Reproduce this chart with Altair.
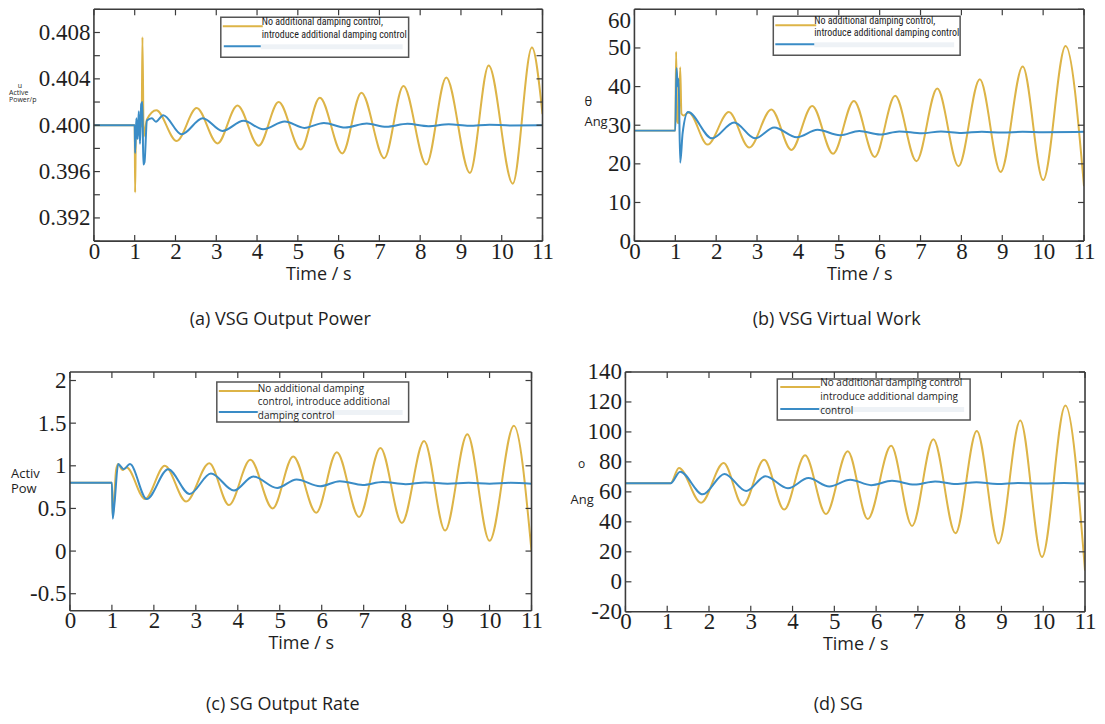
import altair as alt
import pandas as pd

YELLOW = "#DDB447"
BLUE = "#3A8CC6"
FRAME = "#3c3c3c"
TXT = "#1e1e1e"
SERIF = "Liberation Serif"
SANS = "Open Sans"
NARROW = "Liberation Sans Narrow, Roboto Condensed, Roboto"

X_TICKS = [0, 1, 2, 3, 4, 5, 6, 7, 8, 9, 10, 11]
X_DOMAIN = [0, 11]

# ---------------- (a) VSG output power ----------------
a_no_t = [0.0, 1.0, 1.01, 1.03, 1.17, 1.19, 1.22, 1.30, 1.53, 2.03, 2.52, 3.03, 3.52, 4.04, 4.53,
          5.07, 5.54, 6.09, 6.56, 7.12, 7.59, 8.15, 8.64, 9.22, 9.68, 10.27, 10.74, 11.0]
a_no_v = [0.4000, 0.4000, 0.3942, 0.3995, 0.4000, 0.4076, 0.3990, 0.4005, 0.4013, 0.39864, 0.40148,
          0.39843, 0.40171, 0.39823, 0.40200, 0.39791, 0.40238, 0.39757, 0.40281, 0.39716, 0.40339,
          0.39661, 0.40412, 0.39588, 0.40516, 0.39496, 0.40670, 0.40096]
a_da_t = [0.0, 1.0, 1.01, 1.04, 1.07, 1.10, 1.13, 1.16, 1.19, 1.21, 1.24, 1.30, 1.42, 1.52, 1.70,
          2.15, 2.67, 3.15, 3.67, 4.15, 4.68, 5.16, 5.64, 6.16, 6.69, 7.17, 7.69, 8.2, 8.7, 9.2,
          9.7, 10.2, 11.0]
a_da_v = [0.4000, 0.4000, 0.3976, 0.4006, 0.3988, 0.4012, 0.3984, 0.4018, 0.4020, 0.3966, 0.3968,
          0.4004, 0.4006, 0.4003, 0.40087, 0.39922, 0.40060, 0.39951, 0.40038, 0.39965, 0.40032,
          0.39977, 0.40020, 0.39980, 0.40015, 0.39986, 0.40012, 0.39992, 0.40008, 0.39995,
          0.40005, 0.39998, 0.40000]
a_ydomain = [0.390, 0.410]
a_ylabels = [0.392, 0.396, 0.400, 0.404, 0.408]
a_yticks = [0.390, 0.392, 0.394, 0.396, 0.398, 0.400, 0.402, 0.404, 0.406, 0.408, 0.410]

# ---------------- (b) VSG virtual work angle ----------------
b_no_t = [0.0, 1.0, 1.02, 1.05, 1.08, 1.12, 1.15, 1.20, 1.33, 1.79, 2.31, 2.81, 3.35, 3.84, 4.35,
          4.86, 5.37, 5.88, 6.38, 6.90, 7.41, 7.93, 8.45, 8.96, 9.50, 10.0, 10.55, 11.0]
b_no_v = [28.6, 28.6, 49.0, 31.0, 30.5, 45.0, 33.0, 32.5, 33.3, 25.0, 33.4, 24.2, 34.1, 23.6, 35.0,
          22.6, 36.3, 21.8, 37.6, 20.7, 39.5, 19.4, 41.9, 17.9, 45.2, 15.8, 50.5, 14.2]
b_da_t = [0.0, 1.0, 1.03, 1.06, 1.08, 1.12, 1.18, 1.31, 1.90, 2.44, 2.95, 3.42, 3.97, 4.48, 5.03,
          5.50, 6.01, 6.48, 7.03, 7.50, 8.0, 8.5, 9.0, 9.5, 10.0, 11.0]
b_da_v = [28.6, 28.6, 44.8, 40.0, 42.0, 20.3, 28.0, 33.4, 26.6, 30.7, 26.6, 29.4, 26.9, 28.8, 27.4,
          28.5, 27.6, 28.4, 27.9, 28.4, 28.0, 28.3, 28.1, 28.3, 28.2, 28.3]
b_ydomain = [0, 60]
b_ylabels = [0, 10, 20, 30, 40, 50, 60]
b_yticks = [0, 10, 20, 30, 40, 50, 60]

# ---------------- (c) SG output ----------------
c_no_t = [0.0, 1.0, 1.02, 1.10, 1.15, 1.25, 1.35, 1.79, 2.26, 2.77, 3.32, 3.79, 4.30, 4.83, 5.32,
          5.87, 6.36, 6.89, 7.40, 7.91, 8.44, 8.94, 9.47, 10.0, 10.58, 11.0]
c_no_v = [0.80, 0.80, 0.40, 0.95, 1.02, 0.95, 0.98, 0.61, 1.00, 0.58, 1.03, 0.54, 1.07, 0.50, 1.11,
          0.45, 1.16, 0.40, 1.21, 0.33, 1.29, 0.24, 1.37, 0.12, 1.47, 0.00]
c_da_t = [0.0, 1.0, 1.02, 1.06, 1.15, 1.28, 1.43, 1.83, 2.34, 2.85, 3.36, 3.91, 4.37, 4.94, 5.40,
          5.96, 6.43, 6.98, 7.45, 8.0, 8.47, 9.0, 9.5, 10.0, 10.5, 11.0]
c_da_v = [0.80, 0.80, 0.38, 0.55, 1.02, 0.96, 1.02, 0.61, 0.96, 0.67, 0.91, 0.71, 0.875, 0.74, 0.84,
          0.76, 0.82, 0.775, 0.81, 0.785, 0.805, 0.79, 0.80, 0.79, 0.80, 0.79]
c_ydomain = [-0.7, 2.1]
c_ylabels = [-0.5, 0, 0.5, 1, 1.5, 2]
c_yticks = [-0.5, 0, 0.5, 1, 1.5, 2]

# ---------------- (d) SG angle ----------------
d_no_t = [0.0, 1.08, 1.28, 1.81, 2.35, 2.81, 3.32, 3.80, 4.30, 4.80, 5.32, 5.80, 6.36, 6.86, 7.37,
          7.90, 8.41, 8.93, 9.45, 9.97, 10.53, 11.0]
d_no_v = [65.8, 65.8, 76.0, 52.7, 79.2, 50.9, 81.4, 48.2, 84.4, 45.2, 87.1, 41.9, 90.7, 37.3, 95.2,
          32.4, 100.7, 25.6, 107.7, 16.5, 117.6, 7.5]
d_da_t = [0.0, 1.08, 1.31, 1.85, 2.37, 2.89, 3.35, 3.89, 4.38, 4.88, 5.38, 5.88, 6.38, 6.92, 7.41,
          7.91, 8.4, 8.9, 9.4, 10.0, 10.5, 11.0]
d_da_v = [65.8, 65.8, 73.5, 58.4, 72.0, 60.6, 70.4, 62.4, 69.2, 63.6, 68.1, 64.5, 67.4, 64.9, 67.0,
          65.2, 66.5, 65.3, 66.0, 65.6, 66.0, 65.6]
d_ydomain = [-20, 140]
d_ylabels = [-20, 0, 20, 40, 60, 80, 100, 120, 140]
d_yticks = [-20, 0, 20, 40, 60, 80, 100, 120, 140]

# ---------------- texts ----------------
LEG_AB = ["No additional damping control,", "introduce additional damping control"]
LEG_C = ["No additional damping", "control, introduce additional", "damping control"]
LEG_D = ["No additional damping control", " introduce additional damping", "control"]
YT_A = ["u", "Active", "Power/p"]
YT_B = ["\u03b8", "Ang"]
YT_C = ["Activ", "Pow"]
YT_D = ["o", "Ang"]
CAPTIONS = ["(a) VSG Output Power", "(b) VSG Virtual Work", "(c) SG Output Rate", "(d) SG"]
X_TITLE = "Time / s"


def text_layer(lines, x, y, size, font=SANS, align="left", line_height=None, color=TXT):
    df = pd.DataFrame({"s": ["\n".join(lines)]})
    kw = dict(align=align, baseline="middle", font=font, fontSize=size, color=color, lineBreak="\n")
    if line_height is not None:
        kw["lineHeight"] = line_height
    return alt.Chart(df).mark_text(**kw).encode(x=alt.value(x), y=alt.value(y), text="s:N")


def panel(t_no, v_no, t_da, v_da, ydom, ylabels, yticks, w, h, leg, ytexts, caption,
          cap_dx, cap_offset, xoff=0, yfmt=None, top_flush=False):
    xs = alt.X("t:Q", scale=alt.Scale(domain=X_DOMAIN, range=[xoff, xoff + w], nice=False, zero=False),
               axis=alt.Axis(values=X_TICKS, title=X_TITLE, ticks=False, tickSize=0, domain=False,
                             grid=False, labelFont=SERIF, labelFontSize=23, labelColor=TXT,
                             labelPadding=-1, labelOverlap=False, labelFlush=False,
                             titleFont=SANS, titleFontSize=18, titleFontWeight="normal",
                             titleColor=TXT, titlePadding=2))
    yk = dict(values=ylabels, title=None, ticks=False, tickSize=0, domain=False, grid=False,
              labelFont=SERIF, labelFontSize=23, labelColor=TXT, labelPadding=4,
              labelOverlap=False, labelFlush=False)
    if xoff:
        yk["offset"] = -xoff
    if yfmt:
        yk["format"] = yfmt
    else:
        yk["labelExpr"] = "toString(datum.value)"
    if top_flush:
        yk["labelBaseline"] = {"condition": {"test": f"datum.value >= {ydom[1]}", "value": "top"},
                               "value": "middle"}
    ys = alt.Y("v:Q", scale=alt.Scale(domain=ydom, nice=False, zero=False), axis=alt.Axis(**yk))

    l_no = alt.Chart(pd.DataFrame({"t": t_no, "v": v_no})).mark_line(
        color=YELLOW, strokeWidth=2, interpolate="monotone", clip=True).encode(x=xs, y=ys)
    l_da = alt.Chart(pd.DataFrame({"t": t_da, "v": v_da})).mark_line(
        color=BLUE, strokeWidth=2, interpolate="monotone", clip=True).encode(x=xs, y=ys)

    # frame along the axis extents
    fk = dict(color=FRAME, strokeWidth=1.6)
    fv = alt.Chart(pd.DataFrame({"t": X_DOMAIN})).mark_rule(**fk).encode(
        x=xs, y=alt.value(0), y2=alt.value(h))
    fh = alt.Chart(pd.DataFrame({"t": [X_DOMAIN[0]] * 2, "t2": [X_DOMAIN[1]] * 2, "v": ydom})
                   ).mark_rule(**fk).encode(x=xs, x2="t2:Q", y=ys)

    xt = pd.DataFrame({"t": X_TICKS})
    yt = pd.DataFrame({"v": yticks})
    rk = dict(color=FRAME, strokeWidth=1.2)
    tb = alt.Chart(xt).mark_rule(**rk).encode(x=xs, y=alt.value(h), y2=alt.value(h - 6))
    tt = alt.Chart(xt).mark_rule(**rk).encode(x=xs, y=alt.value(0), y2=alt.value(6))
    tl = alt.Chart(yt).mark_rule(**rk).encode(y=ys, x=alt.value(xoff), x2=alt.value(xoff + 6))
    tr = alt.Chart(yt).mark_rule(**rk).encode(y=ys, x=alt.value(xoff + w), x2=alt.value(xoff + w - 6))

    one = pd.DataFrame({"k": [0]})
    bx0, bx1, by0, by1 = leg["box"]
    box = alt.Chart(one).mark_rect(fill="white", stroke="#555555", strokeWidth=1.5).encode(
        x=alt.value(xoff + bx0), x2=alt.value(xoff + bx1), y=alt.value(by0), y2=alt.value(by1))
    yx0, yx1, yy = leg["yel"]
    sy = alt.Chart(one).mark_rule(color=YELLOW, strokeWidth=2).encode(
        x=alt.value(xoff + yx0), x2=alt.value(xoff + yx1), y=alt.value(yy))
    ux0, ux1, uy = leg["blu"]
    sb = alt.Chart(one).mark_rule(color=BLUE, strokeWidth=2).encode(
        x=alt.value(xoff + ux0), x2=alt.value(xoff + ux1), y=alt.value(uy))
    smear = alt.Chart(one).mark_rect(color="#e3e9f0", opacity=0.6).encode(
        x=alt.value(xoff + ux1), x2=alt.value(xoff + bx1 - 6), y=alt.value(uy - 2), y2=alt.value(uy + 3))
    lt = text_layer(leg["lines"], xoff + leg["tx"], leg["ty"], leg["size"], font=leg["font"],
                    line_height=leg["lh"])

    layers = [l_no, l_da, fv, fh, tb, tt, tl, tr, box, smear, sy, sb, lt] + ytexts
    return alt.layer(*layers).properties(
        width=xoff + w, height=h,
        title=alt.TitleParams(caption, orient="bottom", anchor="middle", frame="group",
                              dx=cap_dx, offset=cap_offset, font=SANS, fontSize=18,
                              fontWeight="normal", color=TXT))


A_OFF = 24   # panel (a) sits 24px right of panel (c)
B_OFF = 9    # panel (b) sits 9px right of panel (d)
pa = panel(a_no_t, a_no_v, a_da_t, a_da_v, a_ydomain, a_ylabels, a_yticks, 449, 232,
           dict(box=(127, 315, 8, 48), yel=(129, 169, 17), blu=(130, 167, 37),
                lines=LEG_AB, tx=168, ty=13, size=10, font=NARROW, lh=12.5),
           [text_layer([YT_A[0]], A_OFF - 74, 77, 7, align="center"),
            text_layer(YT_A[1:], A_OFF - 85, 84, 7, line_height=7)],
           CAPTIONS[0], -26, 28, xoff=A_OFF, yfmt=".3f")

pb = panel(b_no_t, b_no_v, b_da_t, b_da_v, b_ydomain, b_ylabels, b_yticks, 450, 232,
           dict(box=(139, 326, 7, 46), yel=(141, 182, 16), blu=(141, 180, 35),
                lines=LEG_AB, tx=180, ty=12, size=10, font=NARROW, lh=11.5),
           [text_layer(YT_B, B_OFF - 50, 93, 13, line_height=20)],
           CAPTIONS[1], -18, 28, xoff=B_OFF, top_flush=True)

pc = panel(c_no_t, c_no_v, c_da_t, c_da_v, c_ydomain, c_ylabels, c_yticks, 462, 239,
           dict(box=(147, 339, 10, 50), yel=(149, 190, 19), blu=(149, 188, 40),
                lines=LEG_C, tx=188, ty=17, size=10, font=SANS, lh=13.5),
           [text_layer(YT_C, -59, 102, 13, line_height=15)],
           CAPTIONS[2], -18, 43)

pd_ = panel(d_no_t, d_no_v, d_da_t, d_da_v, d_ydomain, d_ylabels, d_yticks, 460, 240,
            dict(box=(152, 345, 7, 48), yel=(155, 195, 15), blu=(155, 194, 37),
                 lines=LEG_D, tx=195, ty=11, size=10, font=SANS, lh=14),
            [text_layer([YT_D[0]], -44, 92, 12, align="center"),
             text_layer([YT_D[1]], -55, 128, 13)],
            CAPTIONS[3], -17, 42)

chart = alt.concat(
    pa, pb, pc, pd_, columns=2, bounds="flush",
    spacing={"row": 131, "column": 83},
).resolve_scale(
    x="independent", y="independent"
).properties(
    padding={"left": 0, "top": -1, "right": 0, "bottom": 0},
    background="white",
).configure_view(stroke="transparent")

chart.save("out.html", embed_options={"renderer": "svg", "actions": False})
